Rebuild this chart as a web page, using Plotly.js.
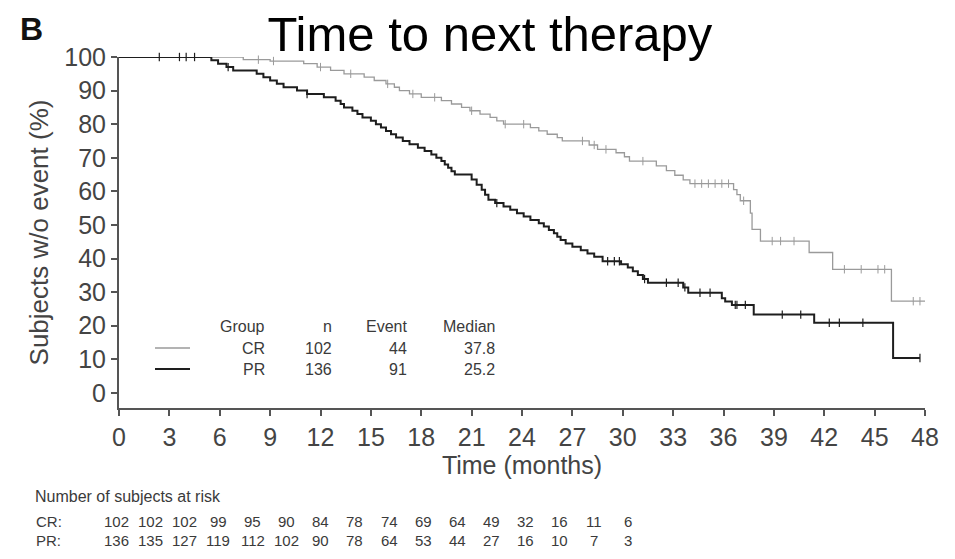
<!DOCTYPE html>
<html>
<head>
<meta charset="utf-8">
<script src="https://cdn.plot.ly/plotly-3.0.1.min.js"></script>
<style>html,body{margin:0;padding:0;background:#fff;}#chart{width:955px;height:559px;}</style>
</head>
<body>
<div id="chart"></div>
<script>
// ---- Kaplan-Meier step data (time in months, % without event) ----
const prTimes = [0, 5.5, 5.9, 6.4, 6.8, 8.2, 8.6, 9.0, 9.4, 9.8, 10.6, 11.2, 12.2, 12.9, 13.2, 13.4, 13.9, 14.2, 14.5, 15.0, 15.3, 15.6, 15.9, 16.2, 16.5, 16.9, 17.3, 17.8, 18.2, 18.6, 18.9, 19.2, 19.4, 19.6, 19.8, 20.0, 21.0, 21.3, 21.6, 21.8, 22.0, 22.4, 22.9, 23.3, 23.7, 24.1, 24.5, 25.0, 25.3, 25.6, 25.9, 26.1, 26.3, 26.6, 27.0, 27.5, 27.9, 28.3, 28.8, 29.9, 30.3, 30.6, 30.9, 31.2, 31.5, 33.6, 33.9, 35.9, 36.1, 36.5, 37.8, 41.4, 46.1, 47.7];
const prSurv  = [100, 99, 98, 97, 96, 95, 94, 93, 92, 91, 90, 89, 88, 87, 86, 85, 84, 83, 82, 81, 80, 79, 78, 77, 76, 75, 74, 73, 72, 71, 70, 69, 68, 67, 66, 65, 63.5, 62, 60.5, 59, 57.5, 56.5, 55.5, 54.5, 53.5, 52.5, 51.5, 50.5, 49.5, 48.5, 47.5, 46.5, 45.5, 44.5, 43.5, 42.5, 41.5, 40.5, 39.2, 38.3, 37.3, 36.2, 35.1, 33.9, 32.8, 31.4, 29.8, 28.2, 27.2, 26.2, 23.3, 20.9, 10.4, 10.4];
const prCensor = [2.4, 3.6, 4.0, 4.5, 6.5, 11.2, 22.5, 29.1, 29.5, 29.8, 31.3, 32.6, 33.3, 33.7, 34.6, 35.2, 36.7, 36.8, 37.3, 39.5, 40.6, 42.3, 42.9, 44.3, 47.7];

const crTimes = [0, 7.4, 9.0, 11.0, 11.8, 12.6, 13.4, 14.6, 15.2, 15.9, 16.4, 16.7, 17.3, 18.0, 19.2, 19.8, 20.4, 20.9, 21.5, 22.1, 22.5, 22.9, 24.5, 25.0, 25.5, 26.1, 26.4, 28.0, 28.5, 29.6, 30.1, 30.4, 32.0, 32.6, 33.1, 33.6, 34.0, 36.6, 36.8, 37.0, 37.6, 37.7, 38.2, 41.1, 42.5, 46.0, 48.0];
const crSurv  = [100, 99.2, 98.8, 98, 97, 96, 95, 94, 93, 92, 91, 90, 89, 88, 87, 86, 85, 84, 83, 82, 81, 80, 79, 78, 77, 76, 75, 73.8, 72.5, 71.5, 70.3, 69, 67.6, 66.2, 64.8, 63.4, 62.3, 60.5, 59, 57.2, 53.5, 48.7, 45.2, 41.8, 36.8, 27.3, 27.3];
const crCensor = [8.3, 9.2, 12.0, 13.8, 16.0, 17.5, 18.8, 21.0, 23.0, 24.1, 27.6, 28.3, 29.0, 31.2, 34.3, 34.7, 35.1, 35.5, 35.9, 36.3, 37.2, 38.9, 39.4, 40.2, 43.2, 44.2, 45.2, 45.6, 47.3, 47.7];

// ---- summary table ----
const groups   = ['CR', 'PR'];
const nTotal   = [102, 136];
const nEvents  = [44, 91];
const medians  = ['37.8', '25.2'];

// ---- number at risk ----
const riskMonths = [0, 3, 6, 9, 12, 15, 18, 21, 24, 27, 30, 33, 36, 39, 42, 45];
const riskCR = [102, 102, 102, 99, 95, 90, 84, 78, 74, 69, 64, 49, 32, 16, 11, 6];
const riskPR = [136, 135, 127, 119, 112, 102, 90, 78, 64, 53, 44, 27, 16, 10, 7, 3];

const xTicks = [0, 3, 6, 9, 12, 15, 18, 21, 24, 27, 30, 33, 36, 39, 42, 45, 48];
const yTicks = [0, 10, 20, 30, 40, 50, 60, 70, 80, 90, 100];

function stepAt(times, surv, t) {
  let v = surv[0];
  for (let i = 0; i < times.length; i++) { if (times[i] <= t) v = surv[i]; else break; }
  return v;
}

const CR_COL = '#9a9a9a', PR_COL = '#1e1e1e';

const traces = [
  {x: crTimes, y: crSurv, type: 'scatter', mode: 'lines', line: {shape: 'hv', color: CR_COL, width: 1.3}, hoverinfo: 'skip', cliponaxis: false},
  {x: crCensor, y: crCensor.map(t => stepAt(crTimes, crSurv, t)), type: 'scatter', mode: 'markers',
   marker: {symbol: 'line-ns-open', size: 6, color: CR_COL, line: {color: CR_COL, width: 1}}, hoverinfo: 'skip', cliponaxis: false},
  {x: prTimes, y: prSurv, type: 'scatter', mode: 'lines', line: {shape: 'hv', color: PR_COL, width: 2}, hoverinfo: 'skip', cliponaxis: false},
  {x: prCensor, y: prCensor.map(t => stepAt(prTimes, prSurv, t)), type: 'scatter', mode: 'markers',
   marker: {symbol: 'line-ns-open', size: 6, color: PR_COL, line: {color: PR_COL, width: 1.2}}, hoverinfo: 'skip', cliponaxis: false}
];

// geometry helpers (pixel -> paper)
const L = 119, R = 30, T = 57, B = 151, W = 955, H = 559;
const pw = W - L - R, ph = H - T - B;
const px = p => (p - L) / pw;
const py = p => (H - B - p) / ph;

const ann = [];
const tFont = {family: 'Liberation Sans, Arial, sans-serif', size: 16, color: '#3a3a3a'};
// summary table
const colRight = [267, 334, 409, 497];
const header = ['Group', 'n', 'Event', 'Median'];
header.forEach((h, i) => ann.push({xref: 'paper', yref: 'paper', x: px(colRight[i]), y: py(326), text: h, showarrow: false, xanchor: 'right', yanchor: 'middle', font: tFont}));
const rowY = [348, 369];
groups.forEach((g, r) => {
  const vals = [g, String(nTotal[r]), String(nEvents[r]), medians[r]];
  vals.forEach((v, i) => ann.push({xref: 'paper', yref: 'paper', x: px(colRight[i]), y: py(rowY[r]), text: v, showarrow: false, xanchor: 'right', yanchor: 'middle', font: tFont}));
});
// risk table
const rFont = {family: 'Liberation Sans, Arial, sans-serif', size: 15, color: '#3a3a3a'};
ann.push({xref: 'paper', yref: 'paper', x: px(33), y: py(496), text: 'Number of subjects at risk', showarrow: false, xanchor: 'left', yanchor: 'middle', font: {family: rFont.family, size: 16, color: rFont.color}});
ann.push({xref: 'paper', yref: 'paper', x: px(34), y: py(521), text: 'CR:', showarrow: false, xanchor: 'left', yanchor: 'middle', font: rFont});
ann.push({xref: 'paper', yref: 'paper', x: px(34), y: py(540), text: 'PR:', showarrow: false, xanchor: 'left', yanchor: 'middle', font: rFont});
riskMonths.forEach((m, i) => {
  const cx = 116 + i * 34.13;
  ann.push({xref: 'paper', yref: 'paper', x: px(cx), y: py(521), text: String(riskCR[i]), showarrow: false, xanchor: 'center', yanchor: 'middle', font: rFont});
  ann.push({xref: 'paper', yref: 'paper', x: px(cx), y: py(540), text: String(riskPR[i]), showarrow: false, xanchor: 'center', yanchor: 'middle', font: rFont});
});
// panel letter
ann.push({xref: 'paper', yref: 'paper', x: px(18), y: py(29), text: '<b>B</b>', showarrow: false, xanchor: 'left', yanchor: 'middle', font: {family: 'Liberation Sans, Arial, sans-serif', size: 32, color: '#111'}});

const shapes = [
  {type: 'line', xref: 'paper', yref: 'paper', x0: px(155), x1: px(190), y0: py(348), y1: py(348), line: {color: CR_COL, width: 1.3}},
  {type: 'line', xref: 'paper', yref: 'paper', x0: px(155), x1: px(190), y0: py(369), y1: py(369), line: {color: PR_COL, width: 2}}
];

const axFont = {family: 'Liberation Sans, Arial, sans-serif', size: 25, color: '#444'};
const layout = {
  width: W, height: H,
  margin: {l: L, r: R, t: T, b: B, pad: 0},
  paper_bgcolor: '#fff', plot_bgcolor: '#fff',
  showlegend: false,
  title: {text: 'Time to next therapy', font: {family: 'Liberation Sans, Arial, sans-serif', size: 49, color: '#000'}, x: 0.513, xanchor: 'center', y: 0.94, yanchor: 'middle'},
  xaxis: {range: [0, 48], tickvals: xTicks, ticktext: xTicks.map(String), showgrid: false, zeroline: false,
          showline: true, linecolor: '#555', linewidth: 2, ticks: 'outside', ticklen: 6, tickwidth: 2, tickcolor: '#555',
          tickfont: axFont, title: {text: 'Time (months)', font: axFont, standoff: 6}},
  yaxis: {range: [-4.5, 100], tickvals: yTicks, ticktext: yTicks.map(String), showgrid: false, zeroline: false,
          showline: true, linecolor: '#555', linewidth: 2, ticks: 'outside', ticklen: 6, tickwidth: 2, tickcolor: '#555',
          tickfont: axFont, title: {text: 'Subjects w/o event (%)', font: {family: axFont.family, size: 26, color: '#444'}, standoff: 8}},
  annotations: ann,
  shapes: shapes
};

Plotly.newPlot('chart', traces, layout, {staticPlot: true, displayModeBar: false});
</script>
</body>
</html>
